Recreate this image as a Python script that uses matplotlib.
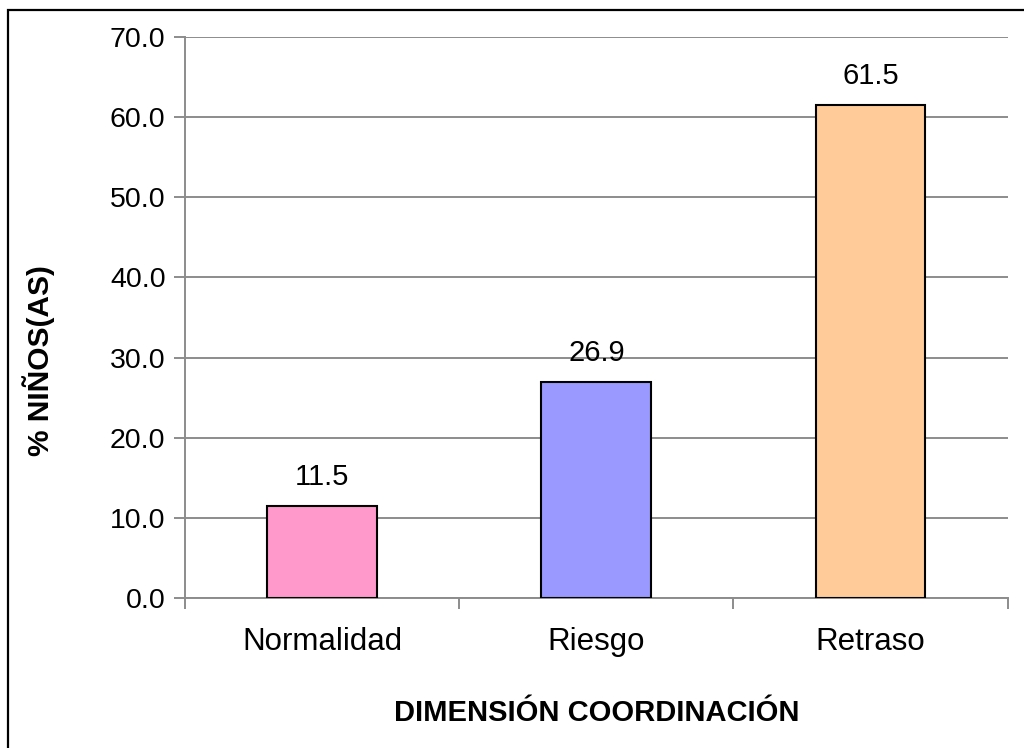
import numpy as np
import matplotlib.pyplot as plt
from matplotlib.patches import Rectangle

plt.rcParams['font.family'] = ['Liberation Sans', 'DejaVu Sans']

categories = ['Normalidad', 'Riesgo', 'Retraso']
values = [11.5, 26.9, 61.5]
colors = ['#FF99CC', '#9999FF', '#FFCC99']
grid_color = '#8C8C8C'

fig = plt.figure(figsize=(10.24, 7.48), dpi=100)
ax = fig.add_axes([0.1807, 0.2005, 0.8033, 0.75])

x = np.arange(len(categories))
bars = ax.bar(x, values, width=0.4, color=colors, edgecolor='black', linewidth=1.5, zorder=3)

for b, v in zip(bars, values):
    ax.annotate(f'{v:.1f}', (b.get_x() + b.get_width() / 2, v), xytext=(0, 11),
                textcoords='offset points', ha='center', va='bottom', fontsize=21)

ax.set_xlim(-0.5, 2.5)
ax.set_ylim(0, 70)
ax.set_yticks(np.arange(0, 71, 10))
ax.set_yticklabels([f'{t:.1f}' for t in np.arange(0, 71, 10)], fontsize=20.5)
ax.yaxis.grid(True, color=grid_color, linewidth=1.4, zorder=0)

ax.set_xticks(x)
ax.set_xticklabels(categories, fontsize=22.5)
ax.set_xticks([-0.5, 0.5, 1.5, 2.5], minor=True)
ax.tick_params(axis='x', which='major', length=0, pad=21)
ax.tick_params(axis='x', which='minor', length=8, width=1.4, color=grid_color, direction='out')
ax.tick_params(axis='y', length=8, width=1.4, color=grid_color, direction='out', pad=6)

for s in ['top', 'right']:
    ax.spines[s].set_visible(False)
for s in ['left', 'bottom']:
    ax.spines[s].set_color(grid_color)
    ax.spines[s].set_linewidth(1.4)

ax.set_xlabel('DIMENSIÓN COORDINACIÓN', fontsize=21, fontweight='bold', labelpad=30)
ax.set_ylabel('% NIÑOS(AS)', fontsize=21.5, fontweight='bold')
ax.yaxis.set_label_coords(-0.158, 0.424)

# frame around the chart (clipped at right and bottom in the original)
fig.patches.append(Rectangle((8 / 1024, -0.1), 1.2, 1 - 10 / 748 + 0.1, transform=fig.transFigure,
                             fill=False, edgecolor='black', linewidth=1.6))

fig.savefig('out.png', dpi=100)
